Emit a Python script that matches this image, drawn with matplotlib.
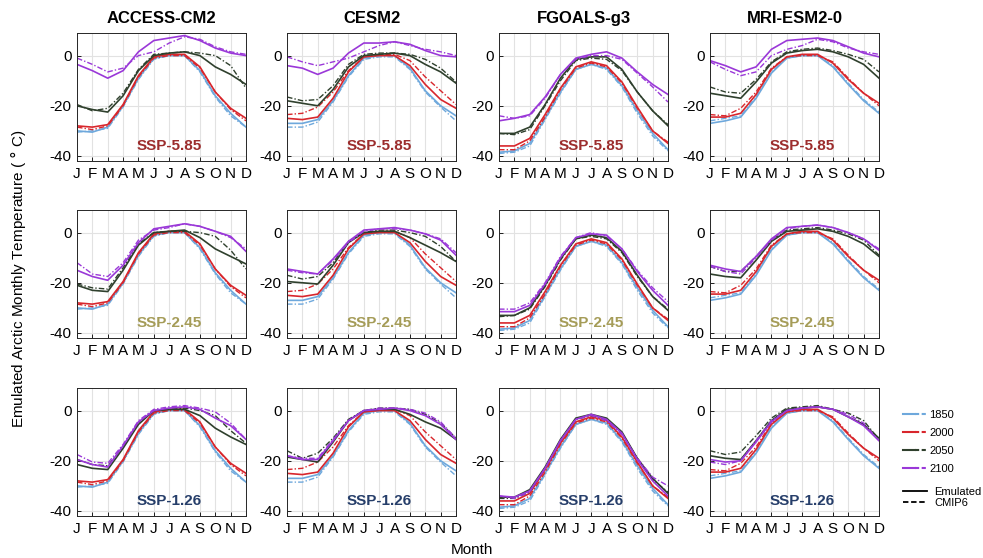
import matplotlib
matplotlib.use('Agg')
import matplotlib.pyplot as plt
from matplotlib.lines import Line2D
from matplotlib.legend_handler import HandlerTuple

plt.rcParams['font.family'] = ['Liberation Sans', 'DejaVu Sans']
plt.rcParams['axes.unicode_minus'] = False

months = ['J', 'F', 'M', 'A', 'M', 'J', 'J', 'A', 'S', 'O', 'N', 'D']
models = ['ACCESS-CM2', 'CESM2', 'FGOALS-g3', 'MRI-ESM2-0']
scenarios = ['SSP-5.85', 'SSP-2.45', 'SSP-1.26']
years = ['1850', '2000', '2050', '2100']

# ---- ACCESS-CM2 ----
acc_1850_em = [-30, -30.5, -28.5, -20, -9, -1, 0, 0, -6, -16, -23, -28.5]
acc_1850_cm = [-30.5, -30, -29, -20.5, -9.5, -1.5, 0, 0, -6.5, -16.5, -24, -28.5]
acc_2000_em = [-28, -28.5, -27.5, -19.5, -8, -0.5, 0.5, 0.5, -4.5, -14.5, -21, -25]
acc_2000_cm = [-28.5, -29.5, -28, -20, -8.5, -1, 0, 0, -5, -14.5, -21.5, -26]
acc_585_2050_em = [-20, -21.5, -22.5, -16, -6, 0, 1, 1.5, 0, -4.5, -7.5, -11.5]
acc_585_2050_cm = [-19.5, -22, -21, -15, -5.5, 0.5, 1, 1.5, 1, 0, -4, -13]
acc_585_2100_em = [-3.5, -6, -9, -6, 1.5, 6, 7, 8, 6, 3, 1, 0]
acc_585_2100_cm = [-1, -3.5, -6.5, -5, 0, 1.5, 5, 7.5, 6.5, 3.5, 1.5, 0.5]
acc_245_2050_em = [-21, -23, -23.5, -15, -5, 0, 0.5, 1, -2, -6.5, -9.5, -12.5]
acc_245_2050_cm = [-20.5, -22, -22.5, -14, -4.5, 0, 0.5, 0.5, 0, -1.5, -7, -14.5]
acc_245_2100_em = [-15, -17.5, -19, -13, -4, 1.5, 2.5, 3.5, 2.5, 0.5, -1.5, -7.5]
acc_245_2100_cm = [-12, -16.5, -17.5, -12, -3, 1, 2, 3.5, 2.5, 0.5, -2, -6.5]
acc_126_2050_em = [-21.5, -23, -23.5, -15, -5.5, 0, 0.5, 0.5, -2, -7, -10.5, -13.5]
acc_126_2050_cm = [-19.5, -21.5, -22, -14.5, -5, 0, 0.5, 1, 0, -2, -8, -13]
acc_126_2100_em = [-19.5, -21.5, -22.5, -14, -4.5, 0, 1, 1.5, 0.5, -3, -6, -11.5]
acc_126_2100_cm = [-17.5, -20.5, -21, -13.5, -4, 0.5, 1.5, 2, 1, -0.5, -5, -11.5]

# ---- CESM2 ----
ces_1850_em = [-27, -27, -25.5, -18, -8, -1, 0, 0, -5, -14, -20, -24]
ces_1850_cm = [-28.5, -28.5, -26.5, -18.5, -8.5, -1.5, -0.5, -0.5, -5.5, -14.5, -20.5, -26]
ces_2000_em = [-25, -25.5, -24.5, -17, -6.5, -0.5, 0, 0, -4, -11.5, -17.5, -21]
ces_2000_cm = [-23.5, -23, -20.5, -14.5, -6, -0.5, 0.5, 0.5, -2, -8.5, -14, -19.5]
ces_585_2050_em = [-18, -19, -20, -13.5, -4.5, 0, 0.5, 1, 0, -3.5, -6.5, -11]
ces_585_2050_cm = [-16.5, -18, -17.5, -12, -3.5, 0.5, 1, 1, 0.5, -1.5, -5, -10.5]
ces_585_2100_em = [-4, -5, -7.5, -5, 1, 5, 5, 5.5, 4.5, 2, 0, -0.5]
ces_585_2100_cm = [-0.5, -2.5, -4, -2.5, -1, 1.5, 4, 5.5, 4, 2.5, 1.5, 0]
ces_245_2050_em = [-19.5, -20, -20.5, -13, -4, 0, 0.5, 0.5, -2, -5, -8, -11.5]
ces_245_2050_cm = [-17, -18.5, -17.5, -12, -3.5, 0, 1, 1, 0, -1.5, -5.5, -11.5]
ces_245_2100_em = [-14.5, -15.5, -16.5, -10.5, -3.5, 1, 1.5, 2, 1, -0.5, -3, -9]
ces_245_2100_cm = [-15, -16, -16.5, -11, -4, 0.5, 1.5, 1.5, 1, -0.5, -2.5, -8]
ces_126_2050_em = [-18.5, -19.5, -20.5, -12.5, -4, 0, 0.5, 0.5, -1.5, -4.5, -7, -11.5]
ces_126_2050_cm = [-16, -19, -17, -11, -3.5, 0, 1, 1, 0.5, -1.5, -5, -11]
ces_126_2100_em = [-18, -19.5, -19.5, -12, -4, 0, 0.5, 1, 0, -2, -5.5, -11.5]
ces_126_2100_cm = [-18, -19, -19, -11.5, -4, 0, 1, 1, 0.5, -1, -4.5, -11]

# ---- FGOALS-g3 ----
fgo_1850_em = [-38.5, -38, -35, -25, -14.5, -5.5, -3.5, -5, -12, -22, -31, -37.5]
fgo_1850_cm = [-39, -38.5, -36, -25.5, -15, -5.5, -3.5, -5.5, -12.5, -23, -32, -38]
fgo_2000_em = [-36, -36, -33, -23.5, -13, -4.5, -2.5, -4, -10.5, -20.5, -30, -35]
fgo_2000_cm = [-37.5, -37.5, -34, -24.5, -13.5, -5, -3, -4.5, -11, -21, -30, -34.5]
fgo_585_2050_em = [-31, -31, -28.5, -19.5, -9, -1.5, -0.5, -0.5, -5.5, -14.5, -22, -28]
fgo_585_2050_cm = [-31, -31.5, -29.5, -20, -10, -2, -1, -1.5, -6, -14.5, -22, -27.5]
fgo_585_2100_em = [-26, -25, -23.5, -16.5, -7.5, -1, 0.5, 1.5, -1, -6.5, -11.5, -15.5]
fgo_585_2100_cm = [-24, -25, -24, -17, -7.5, -1.5, 0, 0, -1.5, -7, -12.5, -18.5]
fgo_245_2050_em = [-33, -33, -30, -21, -10.5, -2.5, -1, -2, -7.5, -17, -25.5, -31]
fgo_245_2050_cm = [-33.5, -33, -30.5, -21.5, -11, -2.5, -1.5, -2.5, -8, -17.5, -25.5, -30.5]
fgo_245_2100_em = [-31.5, -31.5, -29, -20.5, -10, -2, -0.5, -1, -6.5, -15.5, -23, -29]
fgo_245_2100_cm = [-30.5, -30.5, -28, -20, -9.5, -2, 0, -1.5, -6.5, -15, -22, -27.5]
fgo_126_2050_em = [-34.5, -34.5, -31.5, -22.5, -11.5, -3, -1.5, -3, -8.5, -19, -27, -33]
fgo_126_2050_cm = [-35, -35, -32.5, -23, -12, -3.5, -2, -3.5, -9, -19, -27.5, -32.5]
fgo_126_2100_em = [-34, -34.5, -32, -23, -12, -3.5, -1.5, -3.5, -9, -19.5, -28, -34]
fgo_126_2100_cm = [-34, -35, -32.5, -23, -12, -3.5, -2, -4, -9.5, -19, -26.5, -30]

# ---- MRI-ESM2-0 ----
mri_1850_em = [-27, -26, -24.5, -17, -7, -1, 0, 0, -4.5, -11.5, -18, -23]
mri_1850_cm = [-26, -25, -24, -16.5, -6.5, -1, 0, 0, -4, -11, -17.5, -22.5]
mri_2000_em = [-24.5, -24.5, -23, -15.5, -5.5, -0.5, 0.5, 0.5, -3, -9.5, -15, -19]
mri_2000_cm = [-23.5, -24, -21, -14.5, -5, -0.5, 0, 0, -2.5, -9, -15, -20]
mri_585_2050_em = [-15, -16, -17, -10.5, -3, 1, 2, 2.5, 1.5, -0.5, -3.5, -9]
mri_585_2050_cm = [-12.5, -14.5, -15, -9.5, -2.5, 1.5, 2.5, 3, 2, 0.5, -1.5, -6.5]
mri_585_2100_em = [-2, -4, -6.5, -4.5, 2.5, 6, 6.5, 7, 6, 3.5, 1, -0.5]
mri_585_2100_cm = [-2.5, -5.5, -8, -6.5, 0, 2.5, 4, 6.5, 5.5, 3, 1.5, 0.5]
mri_245_2050_em = [-16.5, -17.5, -18, -11, -3.5, 0.5, 1, 1.5, 0.5, -1.5, -4.5, -9.5]
mri_245_2050_cm = [-13.5, -15.5, -15.5, -9.5, -3, 1, 1.5, 2, 1, -0.5, -3, -9]
mri_245_2100_em = [-13, -14.5, -15.5, -9.5, -2.5, 2, 2.5, 3, 2, 0, -2.5, -7]
mri_245_2100_cm = [-13.5, -15.5, -16.5, -10, -3, 1.5, 2.5, 3, 2, 0, -2.5, -6.5]
mri_126_2050_em = [-18, -19, -19.5, -12, -4, 0.5, 1, 1.5, 0.5, -2.5, -5.5, -11]
mri_126_2050_cm = [-16, -17.5, -16.5, -10, -3, 1, 1.5, 2, 0.5, -1, -4, -11.5]
mri_126_2100_em = [-19.5, -20.5, -20, -12.5, -4.5, 0, 1, 1.5, 0.5, -2.5, -6, -12]
mri_126_2100_cm = [-20.5, -21.5, -20, -12, -4, 0, 1, 1.5, 0.5, -1.5, -5, -12]

# (model, scenario) -> {year: (emulated, cmip6)}
hist = {
    'ACCESS-CM2': {'1850': (acc_1850_em, acc_1850_cm), '2000': (acc_2000_em, acc_2000_cm)},
    'CESM2': {'1850': (ces_1850_em, ces_1850_cm), '2000': (ces_2000_em, ces_2000_cm)},
    'FGOALS-g3': {'1850': (fgo_1850_em, fgo_1850_cm), '2000': (fgo_2000_em, fgo_2000_cm)},
    'MRI-ESM2-0': {'1850': (mri_1850_em, mri_1850_cm), '2000': (mri_2000_em, mri_2000_cm)},
}
future = {
    ('ACCESS-CM2', 'SSP-5.85'): {'2050': (acc_585_2050_em, acc_585_2050_cm), '2100': (acc_585_2100_em, acc_585_2100_cm)},
    ('ACCESS-CM2', 'SSP-2.45'): {'2050': (acc_245_2050_em, acc_245_2050_cm), '2100': (acc_245_2100_em, acc_245_2100_cm)},
    ('ACCESS-CM2', 'SSP-1.26'): {'2050': (acc_126_2050_em, acc_126_2050_cm), '2100': (acc_126_2100_em, acc_126_2100_cm)},
    ('CESM2', 'SSP-5.85'): {'2050': (ces_585_2050_em, ces_585_2050_cm), '2100': (ces_585_2100_em, ces_585_2100_cm)},
    ('CESM2', 'SSP-2.45'): {'2050': (ces_245_2050_em, ces_245_2050_cm), '2100': (ces_245_2100_em, ces_245_2100_cm)},
    ('CESM2', 'SSP-1.26'): {'2050': (ces_126_2050_em, ces_126_2050_cm), '2100': (ces_126_2100_em, ces_126_2100_cm)},
    ('FGOALS-g3', 'SSP-5.85'): {'2050': (fgo_585_2050_em, fgo_585_2050_cm), '2100': (fgo_585_2100_em, fgo_585_2100_cm)},
    ('FGOALS-g3', 'SSP-2.45'): {'2050': (fgo_245_2050_em, fgo_245_2050_cm), '2100': (fgo_245_2100_em, fgo_245_2100_cm)},
    ('FGOALS-g3', 'SSP-1.26'): {'2050': (fgo_126_2050_em, fgo_126_2050_cm), '2100': (fgo_126_2100_em, fgo_126_2100_cm)},
    ('MRI-ESM2-0', 'SSP-5.85'): {'2050': (mri_585_2050_em, mri_585_2050_cm), '2100': (mri_585_2100_em, mri_585_2100_cm)},
    ('MRI-ESM2-0', 'SSP-2.45'): {'2050': (mri_245_2050_em, mri_245_2050_cm), '2100': (mri_245_2100_em, mri_245_2100_cm)},
    ('MRI-ESM2-0', 'SSP-1.26'): {'2050': (mri_126_2050_em, mri_126_2050_cm), '2100': (mri_126_2100_em, mri_126_2100_cm)},
}

year_colors = {'1850': '#6ea8dc', '2000': '#d8262c', '2050': '#2f402d', '2100': '#9a38d8'}
ssp_colors = {'SSP-5.85': '#9c2d2d', 'SSP-2.45': '#a59c58', 'SSP-1.26': '#263e6a'}

W, H = 983, 558
fig = plt.figure(figsize=(W / 100, H / 100), dpi=100)

col_left = [77, 287, 499, 710]
row_bottom = [161, 338, 516]
ax_w, ax_h = 169, 128
x = list(range(1, 13))
dashdot = (0, (4, 1.5, 1, 1.5))

for r, ssp in enumerate(scenarios):
    for c, model in enumerate(models):
        ax = fig.add_axes([col_left[c] / W, 1 - row_bottom[r] / H, ax_w / W, ax_h / H])
        curves = dict(hist[model])
        curves.update(future[(model, ssp)])
        for yr in years:
            em, cm = curves[yr]
            ax.plot(x, cm, color=year_colors[yr], lw=1.0, ls=dashdot)
            ax.plot(x, em, color=year_colors[yr], lw=1.2, ls='-')
        ax.set_xlim(1, 12)
        ax.set_ylim(-42, 9)
        ax.set_xticks(x)
        ax.set_xticklabels(months, fontsize=11)
        ax.set_yticks([-40, -20, 0])
        ax.tick_params(axis='y', labelsize=11)
        ax.tick_params(direction='in', length=3, width=0.6, top=False, right=False, pad=4)
        ax.grid(True, color='#e2e2e2', lw=0.8)
        ax.set_axisbelow(True)
        for s in ax.spines.values():
            s.set_linewidth(0.7)
            s.set_color('#262626')
        ax.text(7, -36, ssp, color=ssp_colors[ssp], fontsize=11, fontweight='bold',
                ha='center', va='center')
        if r == 0:
            ax.set_title(model, fontsize=12, fontweight='bold', pad=7)

fig.text(18 / W, 0.5, 'Emulated Arctic Monthly Temperature ( $\\degree$ C)', rotation=90,
         ha='center', va='center', fontsize=11)
fig.text(472 / W, 1 - 550 / H, 'Month', ha='center', va='center', fontsize=11)

# legend: colour per year, solid+dashed swatch
year_handles = [(Line2D([], [], color=year_colors[yr], lw=1.5, ls='-'),
                 Line2D([], [], color=year_colors[yr], lw=1.5, ls=(0, (2, 1.2))))
                for yr in years]
fig.legend(year_handles, years, loc='upper left', bbox_to_anchor=(903 / W, 1 - 410 / H),
           frameon=False, fontsize=8, handlelength=2.2, handletextpad=0.15,
           labelspacing=0.72, borderaxespad=0, borderpad=0,
           handler_map={tuple: HandlerTuple(ndivide=None, pad=0)})
style_handles = [Line2D([], [], color='k', lw=1.3, ls='-'),
                 Line2D([], [], color='k', lw=1.3, ls=(0, (3, 1.5)))]
fig.legend(style_handles, ['Emulated', 'CMIP6'], loc='upper left',
           bbox_to_anchor=(903 / W, 1 - 487 / H), frameon=False, fontsize=8,
           handlelength=2.2, handletextpad=0.6, labelspacing=0.05,
           borderaxespad=0, borderpad=0)

fig.savefig('out.png', dpi=100)
